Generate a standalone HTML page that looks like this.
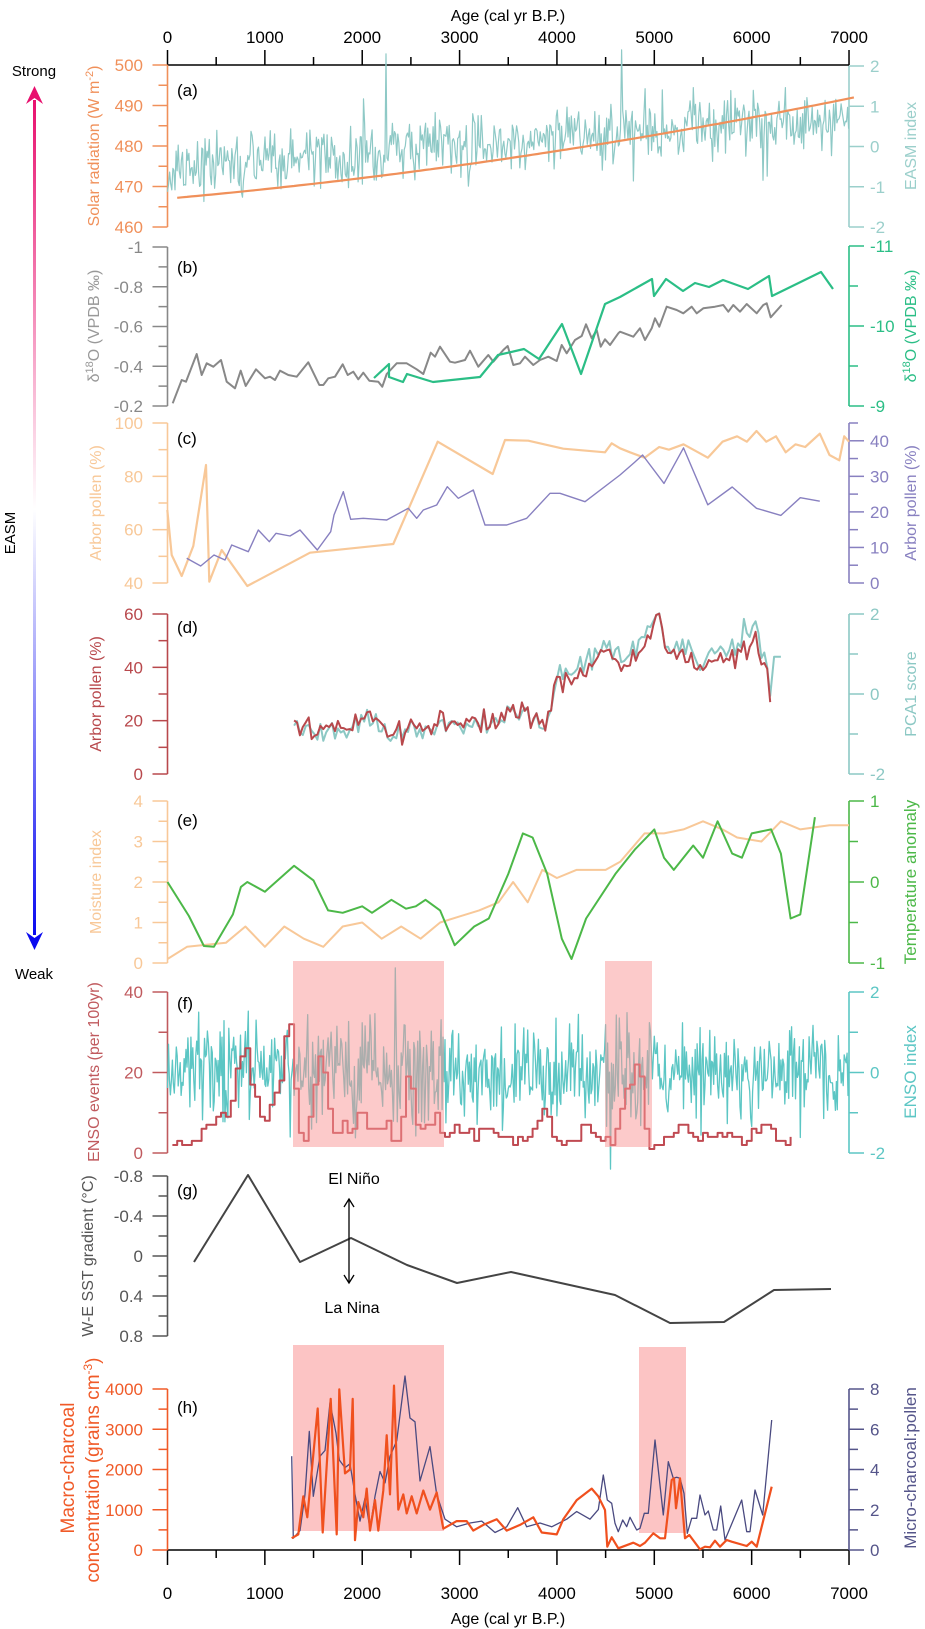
<!DOCTYPE html>
<html><head><meta charset="utf-8">
<style>
html,body{margin:0;padding:0;background:#fff;}
svg{display:block;}
</style></head>
<body>
<svg id="s" xmlns="http://www.w3.org/2000/svg" width="925" height="1629" viewBox="0 0 925 1629" font-family="'Liberation Sans', sans-serif">
<defs>
<linearGradient id="ag" x1="0" y1="0" x2="0" y2="1">
<stop offset="0" stop-color="#E8106E"/>
<stop offset="0.49" stop-color="#FFFFFF"/>
<stop offset="1" stop-color="#0A0AF0"/>
</linearGradient>
</defs>
<g id="g"></g>
<text x="508" y="21" font-size="16" text-anchor="middle">Age (cal yr B.P.)</text>
<text x="508" y="1624" font-size="16" text-anchor="middle">Age (cal yr B.P.)</text>
<text x="34" y="76" font-size="15" text-anchor="middle">Strong</text>
<text x="34" y="979" font-size="15" text-anchor="middle">Weak</text>
<text transform="translate(15,533) rotate(-90)" font-size="15" text-anchor="middle">EASM</text>
<rect x="33" y="100" width="3" height="835" fill="url(#ag)"/>
<polygon points="34.5,86 26,104 34.5,98 43,104" fill="#E8106E"/>
<polygon points="34.5,950 26,932 34.5,938 43,932" fill="#0A0AF0"/>
<g font-size="17">
<text x="177" y="96">(a)</text>
<text x="177" y="273">(b)</text>
<text x="177" y="444">(c)</text>
<text x="177" y="633">(d)</text>
<text x="177" y="826">(e)</text>
<text x="177" y="1009">(f)</text>
<text x="177" y="1196">(g)</text>
<text x="177" y="1413">(h)</text>
</g>
<g font-size="16" text-anchor="middle">
<text transform="translate(99,146) rotate(-90)" fill="#F0905A">Solar radiation (W m<tspan dy="-6" font-size="11">-2</tspan><tspan dy="6">)</tspan></text>
<text transform="translate(99,326) rotate(-90)" fill="#999">δ<tspan dy="-6" font-size="11">18</tspan><tspan dy="6">O (VPDB ‰)</tspan></text>
<text transform="translate(101,503) rotate(-90)" fill="#F8C898">Arbor pollen (%)</text>
<text transform="translate(101,694) rotate(-90)" fill="#B8484C">Arbor pollen (%)</text>
<text transform="translate(101,882) rotate(-90)" fill="#F8C898">Moisture index</text>
<text transform="translate(99,1072) rotate(-90)" fill="#C05A5E">ENSO events (per 100yr)</text>
<text transform="translate(93,1256) rotate(-90)" fill="#555">W-E SST gradient (°C)</text>
<text transform="translate(74,1468) rotate(-90)" fill="#F05A28" font-size="19">Macro-charcoal</text>
<text transform="translate(99,1470) rotate(-90)" fill="#F05A28" font-size="19">concentration  (grains cm<tspan dy="-7" font-size="12">-3</tspan><tspan dy="7">)</tspan></text>
</g>
<g font-size="16" text-anchor="middle">
<text transform="translate(916,146) rotate(-90)" fill="#9BCFCB">EASM index</text>
<text transform="translate(916,326) rotate(-90)" fill="#2BBE86">δ<tspan dy="-6" font-size="11">18</tspan><tspan dy="6">O (VPDB ‰)</tspan></text>
<text transform="translate(916,503) rotate(-90)" fill="#8880C0">Arbor pollen (%)</text>
<text transform="translate(916,694) rotate(-90)" fill="#8CC8C4">PCA1 score</text>
<text transform="translate(916,882) rotate(-90)" fill="#4CB848" font-size="17">Temperature anomaly</text>
<text transform="translate(916,1072) rotate(-90)" fill="#5CC6C4" font-size="17">ENSO index</text>
<text transform="translate(916,1468) rotate(-90)" fill="#55558A" font-size="17">Micro-charcoal:pollen</text>
</g>
<text x="354" y="1184" font-size="16" text-anchor="middle">El Niño</text>
<text x="352" y="1313" font-size="16" text-anchor="middle">La Nina</text>
<line x1="349" y1="1200" x2="349" y2="1282" stroke="#000" stroke-width="1.3"/>
<polyline points="344,1207 349,1199 354,1207" fill="none" stroke="#000" stroke-width="1.3"/>
<polyline points="344,1275 349,1283 354,1275" fill="none" stroke="#000" stroke-width="1.3"/>
</svg>
<script>
(function(){
var a=987654;
function R(){a|=0;a=a+0x6D2B79F5|0;var t=Math.imul(a^a>>>15,1|a);t=t+Math.imul(t^t>>>7,61|t)^t;return((t^t>>>14)>>>0)/4294967296;}
function N(){return (R()+R()+R()+R()-2)*1.2;}
function X(age){return 167.5+age*0.09736;}
function M(v,top,bot,vt,vb){return top+(v-vt)/(vb-vt)*(bot-top);}
function I(pts,x){if(x<=pts[0][0])return pts[0][1];for(var i=1;i<pts.length;i++){if(x<=pts[i][0]){var p=pts[i-1],q=pts[i];return p[1]+(q[1]-p[1])*(x-p[0])/(q[0]-p[0]);}}return pts[pts.length-1][1];}
var o='';
function pl(pts,c,w){o+='<polyline points="'+pts.map(function(p){return p[0].toFixed(1)+','+p[1].toFixed(1);}).join(' ')+'" fill="none" stroke="'+c+'" stroke-width="'+w+'" stroke-linejoin="round"/>';}
function txt(x,y,s,c,anch,fs){o+='<text x="'+x+'" y="'+y+'" fill="'+c+'" font-size="'+(fs||17)+'" text-anchor="'+anch+'">'+s+'</text>';}
function fmt(v){v=Math.round(v*1000)/1000;if(Math.abs(v)<1e-9)v=0;return String(v);}
function axis(side,top,bot,vt,vb,major,minor,c,labs){
  var x=side=='L'?167.5:849;var d=side=='L'?-1:1;
  o+='<line x1="'+x+'" y1="'+top+'" x2="'+x+'" y2="'+bot+'" stroke="'+c+'" stroke-width="1.6"/>';
  var lo=Math.min(vt,vb),hi=Math.max(vt,vb);var n=Math.round((hi-lo)/minor);
  for(var i=0;i<=n;i++){var v=lo+i*minor;var y=M(v,top,bot,vt,vb);
    var mj=Math.abs(v/major-Math.round(v/major))<1e-6;var L=mj?15:9;
    o+='<line x1="'+x+'" y1="'+y+'" x2="'+(x+d*L)+'" y2="'+y+'" stroke="'+c+'" stroke-width="1.5"/>';
    if(mj && labs!==false){ if(side=='L')txt(143,y+6,fmt(v),c,'end');else txt(870,y+6,fmt(v),c,'start');}
  }
}
o+='<rect x="293" y="1345" width="151" height="186" fill="#FCC4C4"/>';
o+='<rect x="639" y="1347" width="47" height="186" fill="#FCC4C4"/>';
function hax(y,dir,labY){o+='<line x1="167.5" y1="'+y+'" x2="849" y2="'+y+'" stroke="#000" stroke-width="1.6"/>';
 for(var k=0;k<=14;k++){var x=X(k*500);var L=k%2==0?15:8;o+='<line x1="'+x+'" y1="'+y+'" x2="'+x+'" y2="'+(y+dir*L)+'" stroke="#000" stroke-width="1.5"/>';
 if(k%2==0)txt(x,labY,String(k*500),'#000','middle');}}
hax(65,-1,43);hax(1550,1,1599);
axis('L',65,227,500,460,10,5,'#F0905A');
axis('R',66,227,2,-2,1,1,'#9BCFCB');
axis('L',247,406,-1,-0.2,0.2,0.1,'#888');
axis('R',246,406,-11,-9,1,0.5,'#2BBE86');
axis('L',423,583,100,40,20,10,'#F8C898');
axis('R',423,583,45,0,10,5,'#8880C0',false);
[0,10,20,30,40].forEach(function(v){txt(870,M(v,423,583,45,0)+6,String(v),'#8880C0','start');});
axis('L',614,774,60,0,20,10,'#B8484C');
axis('R',614,774,2,-2,2,1,'#8CC8C4');
axis('L',801,963,4,0,1,0.5,'#F8C898');
axis('R',801,963,1,-1,1,0.5,'#4CB848');
axis('L',992,1153,40,0,20,10,'#C05A5E');
axis('R',992,1153,2,-2,2,1,'#5CC6C4');
axis('L',1176,1336,-0.8,0.8,0.4,0.2,'#555');
axis('L',1389,1550,4000,0,1000,500,'#F05A28');
axis('R',1389,1550,8,0,2,1,'#55558A');

var p=[];for(var ag=0;ag<=7000;ag+=11){var v=-0.55+1.3*ag/7000+N()*0.55;if(R()<0.03)v+=(R()<0.5?1:-1)*0.9;if(ag==2244)v=2.3;if(ag==4664)v=2.4;p.push([X(ag),M(Math.max(-2.3,Math.min(2.4,v)),66,227,2,-2)]);}
pl(p,'#8EC9C6',1.2);
p=[];for(var ag=100;ag<=7060;ag+=50){var v=467+0.00215*ag+1.98e-7*ag*ag;p.push([X(ag),M(v,65,227,500,460)]);}
pl(p,'#F0905A',2.2);

var z8=[[38,520],[65,450],[78,455],[110,372],[125,435],[140,400],[160,410],[183,390],[200,455],[225,475],[242,422],[257,468],[288,418],[315,445],[330,440],[345,450],[360,422],[385,435],[410,440],[445,397],[478,465],[490,465],[505,445],[525,440],[548,403],[563,435],[580,425],[595,448],[610,428],[628,452],[655,455],[667,470],[680,432],[710,400],[740,400],[770,418],[790,432],[812,368],[825,380],[840,350],[870,395],[885,398],[915,390],[930,362],[955,410],[985,375],[1000,395],[1030,360],[1043,348],[1060,405],[1080,400],[1095,380],[1120,405],[1140,390],[1165,380],[1190,393],[1205,345],[1220,370],[1245,330],[1265,318],[1278,283],[1295,325],[1310,300],[1322,350],[1335,328],[1350,345],[1375,310]];
var z3=[[60,995],[100,1010],[120,985],[135,1020],[155,985],[165,955],[178,980],[200,920],[230,930],[250,940],[275,920],[290,940],[310,925],[345,920],[370,915],[385,935],[400,915],[420,935],[440,912],[470,940],[490,915],[500,910],[512,952],[545,915]];
p=z8.map(function(q){return[160+q[0]/3,230+q[1]/3];}).concat(z3.map(function(q){return[600+q[0]/3,q[1]/3];}));
pl(p,'#888',2);
pl([[374,378],[389,364],[389,377],[403,382],[407,374],[433,382],[480,377],[498,355],[524,349],[539,359],[562,324],[581,374],[605,304],[620,297],[652,279],[654,296],[666,279],[683,291],[695,283],[709,287],[723,280],[748,289],[769,276],[772,296],[821,272],[833,289]],'#2BBE86',2.2);

var zo=[[22,840],[35,975],[65,1038],[100,948],[138,705],[148,1055],[185,960],[262,1068],[450,968],[700,942],[833,635],[998,732],[1035,630],[1105,632],[1210,656],[1335,667],[1355,640],[1380,655]];
p=zo.map(function(q){return[160+q[0]/3,230+q[1]/3];});
[[4750,89],[4900,87],[5050,91],[5150,90],[5300,92],[5450,89],[5550,87],[5700,93],[5850,95],[5950,93],[6050,97],[6150,93],[6250,95],[6350,89],[6450,92],[6550,91],[6700,96],[6800,88],[6900,86],[6950,95],[7000,93]].forEach(function(q){p.push([X(q[0]),M(q[1],423,583,100,40)]);});
pl(p,'#F8C898',2.2);
var zp=[[80,985],[122,1008],[162,975],[195,990],[215,945],[265,965],[295,900],[328,935],[348,910],[390,918],[420,900],[472,960],[512,905],[522,855],[550,785],[572,868],[610,865],[680,870],[745,835],[770,865],[790,840],[830,825],[862,770],[895,805],[940,780],[975,885],[1040,885],[1100,865],[1170,790],[1200,790],[1275,815],[1380,735]];
p=zp.map(function(q){return[160+q[0]/3,230+q[1]/3];});
[[4800,34],[4880,36],[5100,28],[5300,38],[5550,22],[5800,27],[6050,21],[6300,19],[6500,24],[6700,23]].forEach(function(q){p.push([X(q[0]),M(q[1],423,583,45,0)]);});
pl(p,'#8880C0',1.4);

var tr=[[1300,17],[1800,17],[2050,23],[2300,15],[2800,20],[3200,20],[3600,24],[3900,20],[4000,34],[4300,38],[4500,47],[4700,40],[4900,50],[5050,60],[5150,42],[5300,46],[5500,38],[5800,46],[6050,50],[6150,40],[6200,20]];
var pr=[],pt=[];
for(var ag=1300;ag<=6200;ag+=30){var b=I(tr,ag);var n1=N()*3.5;pr.push([X(ag),M(b+n1,614,774,60,0)]);var tv=b+n1*0.6+N()*2.5+(ag>4000?3:-1);pt.push([X(ag),M(Math.max(2,tv),614,774,60,0)]);}
for(var ag=6230;ag<=6300;ag+=35)pt.push([X(ag),M(44,614,774,60,0)]);
pt.forEach(function(q){if(q[0]>X(5900)&&q[0]<X(6100))q[1]-=8;});
pl(pt,'#8CC8C4',2);
pl(pr,'#B8484C',2);

var mo=[[0,0.1],[200,0.4],[400,0.45],[600,0.5],[800,0.9],[1000,0.4],[1200,0.9],[1400,0.6],[1600,0.4],[1800,0.9],[2000,1.0],[2200,0.6],[2400,0.9],[2600,0.6],[2800,1.0],[3000,1.15],[3200,1.3],[3400,1.5],[3550,2.0],[3700,1.5],[3850,2.3],[4000,2.1],[4200,2.3],[4500,2.3],[4650,2.5],[4900,3.2],[5100,3.2],[5300,3.3],[5500,3.5],[5700,3.3],[5850,3.1],[6100,3.0],[6300,3.5],[6500,3.3],[6800,3.4],[7000,3.4]];
pl(mo.map(function(q){return[X(q[0]),M(q[1],801,963,4,0)];}),'#F8C898',2);
var te=[[0,0.0],[220,-0.42],[374,-0.79],[477,-0.8],[672,-0.4],[754,-0.06],[820,0.0],[1000,-0.12],[1300,0.2],[1500,0.02],[1650,-0.35],[1800,-0.38],[2000,-0.3],[2100,-0.38],[2300,-0.22],[2450,-0.33],[2550,-0.3],[2650,-0.22],[2800,-0.35],[2950,-0.78],[3150,-0.55],[3300,-0.45],[3500,0.1],[3650,0.6],[3750,0.55],[3900,0.1],[4050,-0.7],[4150,-0.95],[4300,-0.45],[4600,0.1],[4800,0.4],[5000,0.65],[5100,0.3],[5200,0.15],[5400,0.45],[5500,0.3],[5650,0.75],[5800,0.35],[5900,0.3],[6000,0.6],[6200,0.65],[6300,0.35],[6400,-0.45],[6500,-0.4],[6650,0.8]];
pl(te.map(function(q){return[X(q[0]),M(q[1],801,963,1,-1)];}),'#4CB848',2);

p=[];for(var ag=0;ag<=7000;ag+=10){var amp=(ag>1300&&ag<2850)||(ag>4500&&ag<4980)?0.95:0.8;var v=N()*amp;if(R()<0.05)v*=1.8;p.push([X(ag),M(Math.max(-2.4,Math.min(2.6,v)),992,1153,2,-2)]);}
pl(p,'#5CC6C4',1.3);
var bumps=[[500,7,200],[780,22,130],[1100,12,110],[1240,28,70],[1560,22,90],[1800,5,100],[2000,7,100],[2200,5,80],[2470,17,70],[2700,6,100],[3000,4,150],[3300,3,150],[3850,6,90],[4300,4,100],[4720,14,100],[4830,16,60],[5300,3,200],[5700,3,150],[6100,5,100]];
p=[];var prevY=null;
for(var ag=50;ag<=6400;ag+=50){var v=2.5;bumps.forEach(function(b){v+=b[1]*Math.exp(-Math.pow((ag-b[0])/b[2],2));});v+=N()*1.5;v=Math.max(0.5,Math.round(v));var y=M(v,992,1153,40,0);
 if(prevY!==null)p.push([X(ag),prevY]);p.push([X(ag),y]);prevY=y;}
pl(p,'#C04A52',2);
o+='<rect x="293" y="961" width="151" height="186" fill="rgb(250,150,150)" fill-opacity="0.5"/>';
o+='<rect x="605" y="961" width="47" height="186" fill="rgb(250,150,150)" fill-opacity="0.5"/>';

pl([[194,1262],[248,1175],[300,1262],[351,1238],[407,1265],[457,1283],[511,1272],[615,1295],[670,1323],[724,1322],[774,1290],[831,1289]],'#444',2);

var hp=[[125,1300],[130,1515],[150,1495],[165,1400],[178,1235],[190,1405],[210,1300],[225,1285],[240,1160],[258,1240],[268,1310],[285,1330],[300,1320],[315,1400],[330,1470],[345,1410],[360,1490],[375,1405],[390,1340],[405,1370],[420,1300],[440,1260],[465,1090],[480,1200],[495,1210],[510,1365],[540,1275],[560,1400],[585,1465],[620,1485],[660,1475],[695,1470],[735,1500],[770,1485],[803,1435],[830,1485],[870,1475],[905,1485],[950,1465],[980,1445],[1020,1465],[1045,1440]];
var hp4=[[10,375],[22,450],[35,460],[45,520],[55,545],[68,510],[80,530],[90,502],[110,540],[120,535],[133,490],[145,490],[165,270],[190,495],[205,335],[220,385],[230,382],[240,385],[252,430],[262,550],[275,505],[290,505],[300,435],[315,495],[325,483],[340,540],[350,540],[362,468],[375,570],[425,450],[440,545],[450,545],[465,420],[488,495],[515,210]];
p=hp.map(function(q){return[250+q[0]/3,960+q[1]/2.62];}).concat(hp4.map(function(q){return[600+q[0]/3,1350+q[1]/3];}));
pl(p,'#4A4A80',1.3);
var ho=[[125,1515],[145,1505],[160,1405],[172,1460],[185,1340],[203,1175],[218,1500],[242,1150],[260,1505],[268,1125],[285,1345],[300,1335],[308,1150],[315,1520],[325,1420],[340,1460],[350,1385],[360,1495],[375,1415],[385,1495],[400,1390],[410,1245],[420,1400],[432,1115],[445,1440],[460,1400],[470,1450],[485,1405],[500,1450],[520,1390],[540,1440],[560,1395],[580,1490],[620,1470],[650,1470],[670,1495],[700,1480],[740,1465],[770,1495],[810,1480],[850,1460],[875,1500],[920,1505],[940,1465],[980,1415],[1025,1385],[1045,1405]];
var ho4=[[15,480],[22,590],[35,562],[55,595],[100,578],[120,588],[135,578],[160,550],[180,565],[195,565],[215,390],[222,385],[228,475],[240,385],[255,565],[268,555],[300,598],[315,590],[330,592],[345,572],[360,590],[380,570],[395,575],[440,588],[455,575],[470,590],[515,410]];
p=ho.map(function(q){return[250+q[0]/3,960+q[1]/2.62];}).concat(ho4.map(function(q){return[600+q[0]/3,1350+q[1]/3];}));
pl(p,'#F0501E',2.2);

document.getElementById('g').innerHTML=o;
})();
</script>
</body></html>
